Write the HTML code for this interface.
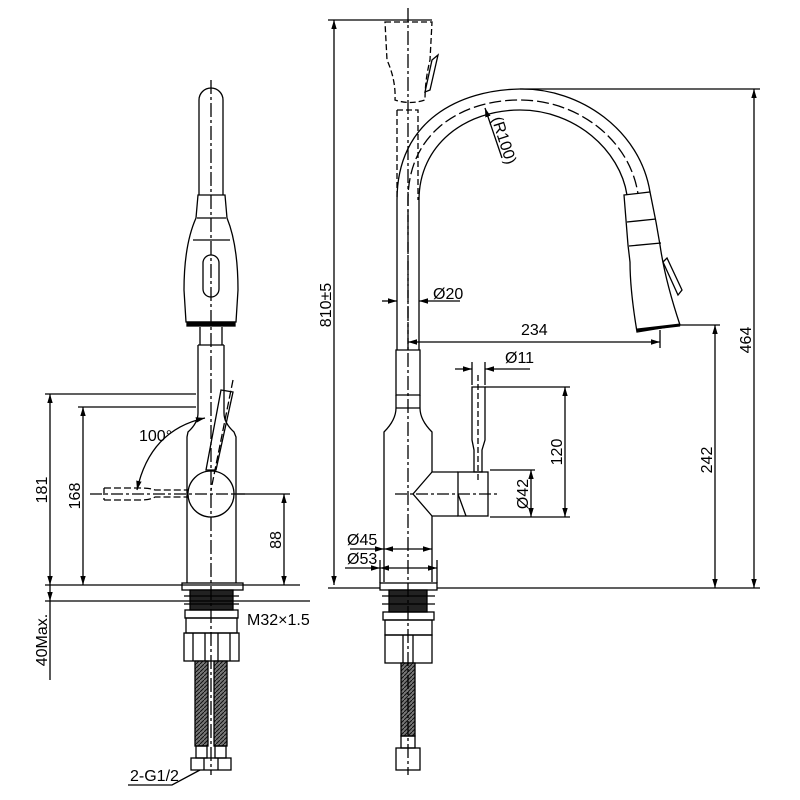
<!DOCTYPE html>
<html><head><meta charset="utf-8"><style>
html,body{margin:0;padding:0;background:#fff;width:800px;height:800px;overflow:hidden}
svg{display:block}
text{font-family:"Liberation Sans",sans-serif;font-size:16px;fill:#000}
</style></head><body>
<svg width="800" height="800" viewBox="0 0 800 800" xmlns="http://www.w3.org/2000/svg">
<defs>
<marker id="a" viewBox="0 0 10 10" refX="10" refY="5" markerWidth="7" markerHeight="7" orient="auto-start-reverse"><path d="M0,2 L10,5 L0,8z" fill="#000"/></marker>
<pattern id="h" width="4" height="4" patternUnits="userSpaceOnUse"><rect width="4" height="4" fill="#777"/><path d="M0,4 L4,0" stroke="#111" stroke-width="1"/></pattern>
</defs>
<g fill="none" stroke="#000" stroke-width="1.3">
<!-- ========== LEFT VIEW ========== -->
<path d="M199,195 V100 A12,12 0 0 1 223,100 V195"/>
<path d="M198,195 H225 L227,218 Q238,245 238,290 L236,322 H186 L184,290 Q184,245 196,218 Z"/>
<line x1="197" y1="218" x2="226" y2="218"/>
<line x1="193" y1="240" x2="230" y2="240"/>
<rect x="203" y="255" width="16" height="42" rx="8"/>
<rect x="187" y="322" width="48" height="4" fill="#000"/>
<path d="M200,327 V345 M222,327 V345"/>
<path d="M198,345 H224 M198,345 V413 Q198,423 188,432 L187,437 V583 M224,345 V413 Q224,423 234,432 L236,437 V583"/>
<path d="M221,390 L233,392 L216,470 L206,470 Z"/>
<line x1="233" y1="380" x2="211" y2="490" stroke-dasharray="8,3"/>
<circle cx="211" cy="494" r="23"/>
<path d="M104,488 H140 Q150,488 155,490 H188 M104,500 H140 Q150,500 155,497 H188 M104,488 V500" stroke-dasharray="7,3"/>
<line x1="90" y1="494" x2="245" y2="494" stroke-dasharray="12,3,3,3"/>
<path d="M137,490 Q150,430 205,418" marker-start="url(#a)" marker-end="url(#a)"/>
<rect x="182" y="583" width="61" height="7"/>
<rect x="190" y="590" width="43" height="20" fill="#222"/>
<line x1="184" y1="596" x2="239" y2="596"/><line x1="184" y1="604" x2="239" y2="604"/>
<rect x="185" y="610" width="53" height="8"/>
<rect x="186" y="618" width="51" height="15"/>
<rect x="184" y="633" width="55" height="28"/>
<line x1="193" y1="633" x2="193" y2="661"/><line x1="205" y1="633" x2="205" y2="661"/><line x1="218" y1="633" x2="218" y2="661"/><line x1="230" y1="633" x2="230" y2="661"/>
<rect x="195" y="661" width="13" height="85" fill="url(#h)"/>
<rect x="214" y="661" width="13" height="85" fill="url(#h)"/>
<rect x="196" y="746" width="11" height="12"/><rect x="215" y="746" width="11" height="12"/>
<rect x="191" y="758" width="40" height="12"/>
<line x1="204" y1="758" x2="204" y2="770"/><line x1="218" y1="758" x2="218" y2="770"/>
<line x1="211" y1="80" x2="211" y2="775" stroke-dasharray="14,3,3,3"/>
<line x1="45" y1="394" x2="196" y2="394"/>
<line x1="78" y1="407" x2="196" y2="407"/>
<line x1="45" y1="585" x2="300" y2="585"/>
<line x1="45" y1="601" x2="310" y2="601"/>
<line x1="234" y1="494" x2="290" y2="494"/>
<line x1="50" y1="394" x2="50" y2="585" marker-start="url(#a)" marker-end="url(#a)"/>
<line x1="83" y1="407" x2="83" y2="585" marker-start="url(#a)" marker-end="url(#a)"/>
<line x1="284" y1="494" x2="284" y2="585" marker-start="url(#a)" marker-end="url(#a)"/>
<line x1="50" y1="585" x2="50" y2="601" marker-end="url(#a)"/>
<line x1="50" y1="601" x2="50" y2="680"/>
<path d="M128,785 H172 L200,770" />

<!-- ========== RIGHT VIEW ========== -->
<path d="M385,22 H432 L430,60 Q425,80 425,100 Q410,105 395,100 Q396,80 387,60 Z" stroke-dasharray="6,3"/>
<path d="M432,60 L438,55 L430,90 L425,92 Z"/>
<path d="M397,110 H418 V200" stroke-dasharray="6,3"/>
<line x1="397" y1="110" x2="397" y2="200" stroke-dasharray="6,3"/>
<path d="M397,350 V200 C397,120 460,90 520,89 C580,88 640,130 650,192"/>
<path d="M419,350 V200 C419,145 465,110 520,110 C575,110 620,150 627,195"/>
<path d="M408,350 V200 C408,132 462,100 520,100 C578,100 630,140 638,194" stroke-dasharray="12,4"/>
<path d="M624,195 L650,192 L656,222 L660,245 Q665,280 680,325 L637,332 Q630,290 630,262 L628,245 Z"/>
<line x1="627" y1="222" x2="656" y2="219"/>
<line x1="629" y1="246" x2="661" y2="243"/>
<path d="M663,262 L667,258 L682,290 L678,295 Z"/>
<line x1="637" y1="330" x2="680" y2="325" stroke-width="3"/>
<path d="M396,350 H420 V395 H396 Z"/>
<line x1="396" y1="408" x2="420" y2="408"/>
<path d="M396,395 V408 Q396,420 384,432 V582 M420,395 V408 Q420,420 432,432 V472 M432,516 V582"/>
<path d="M432,472 H458 M432,516 H458 M432,472 L413,494 L432,516"/>
<rect x="458" y="472" width="30" height="44"/>
<path d="M458,494 L466,516"/>
<path d="M472,387 H485 V440 L482,450 V472 H474 V450 L472,440 Z"/>
<line x1="478" y1="375" x2="478" y2="480" stroke-dasharray="6,3"/>
<line x1="395" y1="494" x2="500" y2="494" stroke-dasharray="12,3,3,3"/>
<rect x="380" y="583" width="57" height="7"/>
<rect x="389" y="590" width="38" height="22" fill="#222"/>
<line x1="382" y1="596" x2="435" y2="596"/><line x1="382" y1="604" x2="435" y2="604"/>
<rect x="383" y="612" width="51" height="8"/>
<rect x="385" y="620" width="47" height="15"/>
<rect x="385" y="635" width="47" height="28"/>
<line x1="403" y1="635" x2="403" y2="663"/><line x1="413" y1="635" x2="413" y2="663"/>
<rect x="401" y="663" width="14" height="73" fill="url(#h)"/>
<rect x="401" y="736" width="14" height="12"/>
<rect x="396" y="748" width="24" height="22"/>
<line x1="408" y1="8" x2="408" y2="775" stroke-dasharray="14,3,3,3"/>
<line x1="328" y1="20" x2="432" y2="20"/>
<line x1="334" y1="20" x2="334" y2="585" marker-start="url(#a)" marker-end="url(#a)"/>
<line x1="328" y1="588" x2="380" y2="588"/>
<line x1="437" y1="588" x2="760" y2="588"/>
<line x1="520" y1="89" x2="760" y2="89"/>
<line x1="754" y1="89" x2="754" y2="588" marker-start="url(#a)" marker-end="url(#a)"/>
<line x1="680" y1="325" x2="720" y2="325"/>
<line x1="715" y1="325" x2="715" y2="588" marker-start="url(#a)" marker-end="url(#a)"/>
<line x1="408" y1="342" x2="660" y2="342" marker-start="url(#a)" marker-end="url(#a)"/>
<line x1="660" y1="330" x2="660" y2="348"/>
<line x1="382" y1="301" x2="397" y2="301" marker-end="url(#a)"/>
<line x1="419" y1="301" x2="460" y2="301" marker-start="url(#a)"/>
<line x1="455" y1="369" x2="472" y2="369" marker-end="url(#a)"/>
<line x1="485" y1="369" x2="530" y2="369" marker-start="url(#a)"/>
<line x1="472" y1="362" x2="472" y2="385"/><line x1="485" y1="362" x2="485" y2="385"/>
<line x1="485" y1="387" x2="570" y2="387"/>
<line x1="565" y1="387" x2="565" y2="517" marker-start="url(#a)" marker-end="url(#a)"/>
<line x1="490" y1="517" x2="570" y2="517"/>
<line x1="490" y1="470" x2="535" y2="470"/>
<line x1="531" y1="470" x2="531" y2="517" marker-start="url(#a)" marker-end="url(#a)"/>
<line x1="350" y1="549" x2="384" y2="549" marker-end="url(#a)"/>
<line x1="384" y1="549" x2="432" y2="549" marker-start="url(#a)" marker-end="url(#a)"/>
<line x1="345" y1="568" x2="380" y2="568" marker-end="url(#a)"/>
<line x1="380" y1="568" x2="437" y2="568" marker-start="url(#a)" marker-end="url(#a)"/>
<line x1="380" y1="560" x2="380" y2="583"/><line x1="437" y1="560" x2="437" y2="583"/>
<line x1="485" y1="108" x2="502" y2="158" marker-start="url(#a)"/>
</g>
<text x="139" y="441">100°</text>
<text transform="translate(47,490) rotate(-90)" text-anchor="middle">181</text>
<text transform="translate(80,496) rotate(-90)" text-anchor="middle">168</text>
<text transform="translate(281,540) rotate(-90)" text-anchor="middle">88</text>
<text transform="translate(47,640) rotate(-90)" text-anchor="middle">40Max.</text>
<text x="247" y="625">M32×1.5</text>
<text x="130" y="781">2-G1/2</text>
<text transform="translate(331,305) rotate(-90)" text-anchor="middle">810±5</text>
<text x="433" y="299">Ø20</text>
<text x="521" y="335">234</text>
<text x="505" y="363">Ø11</text>
<text transform="translate(562,452) rotate(-90)" text-anchor="middle">120</text>
<text transform="translate(528,494) rotate(-90)" text-anchor="middle">Ø42</text>
<text transform="translate(712,460) rotate(-90)" text-anchor="middle">242</text>
<text transform="translate(751,340) rotate(-90)" text-anchor="middle">464</text>
<text x="347" y="545">Ø45</text>
<text x="347" y="564">Ø53</text>
<text transform="translate(499,142) rotate(72)" text-anchor="middle">(R100)</text>
</svg>
</body></html>
